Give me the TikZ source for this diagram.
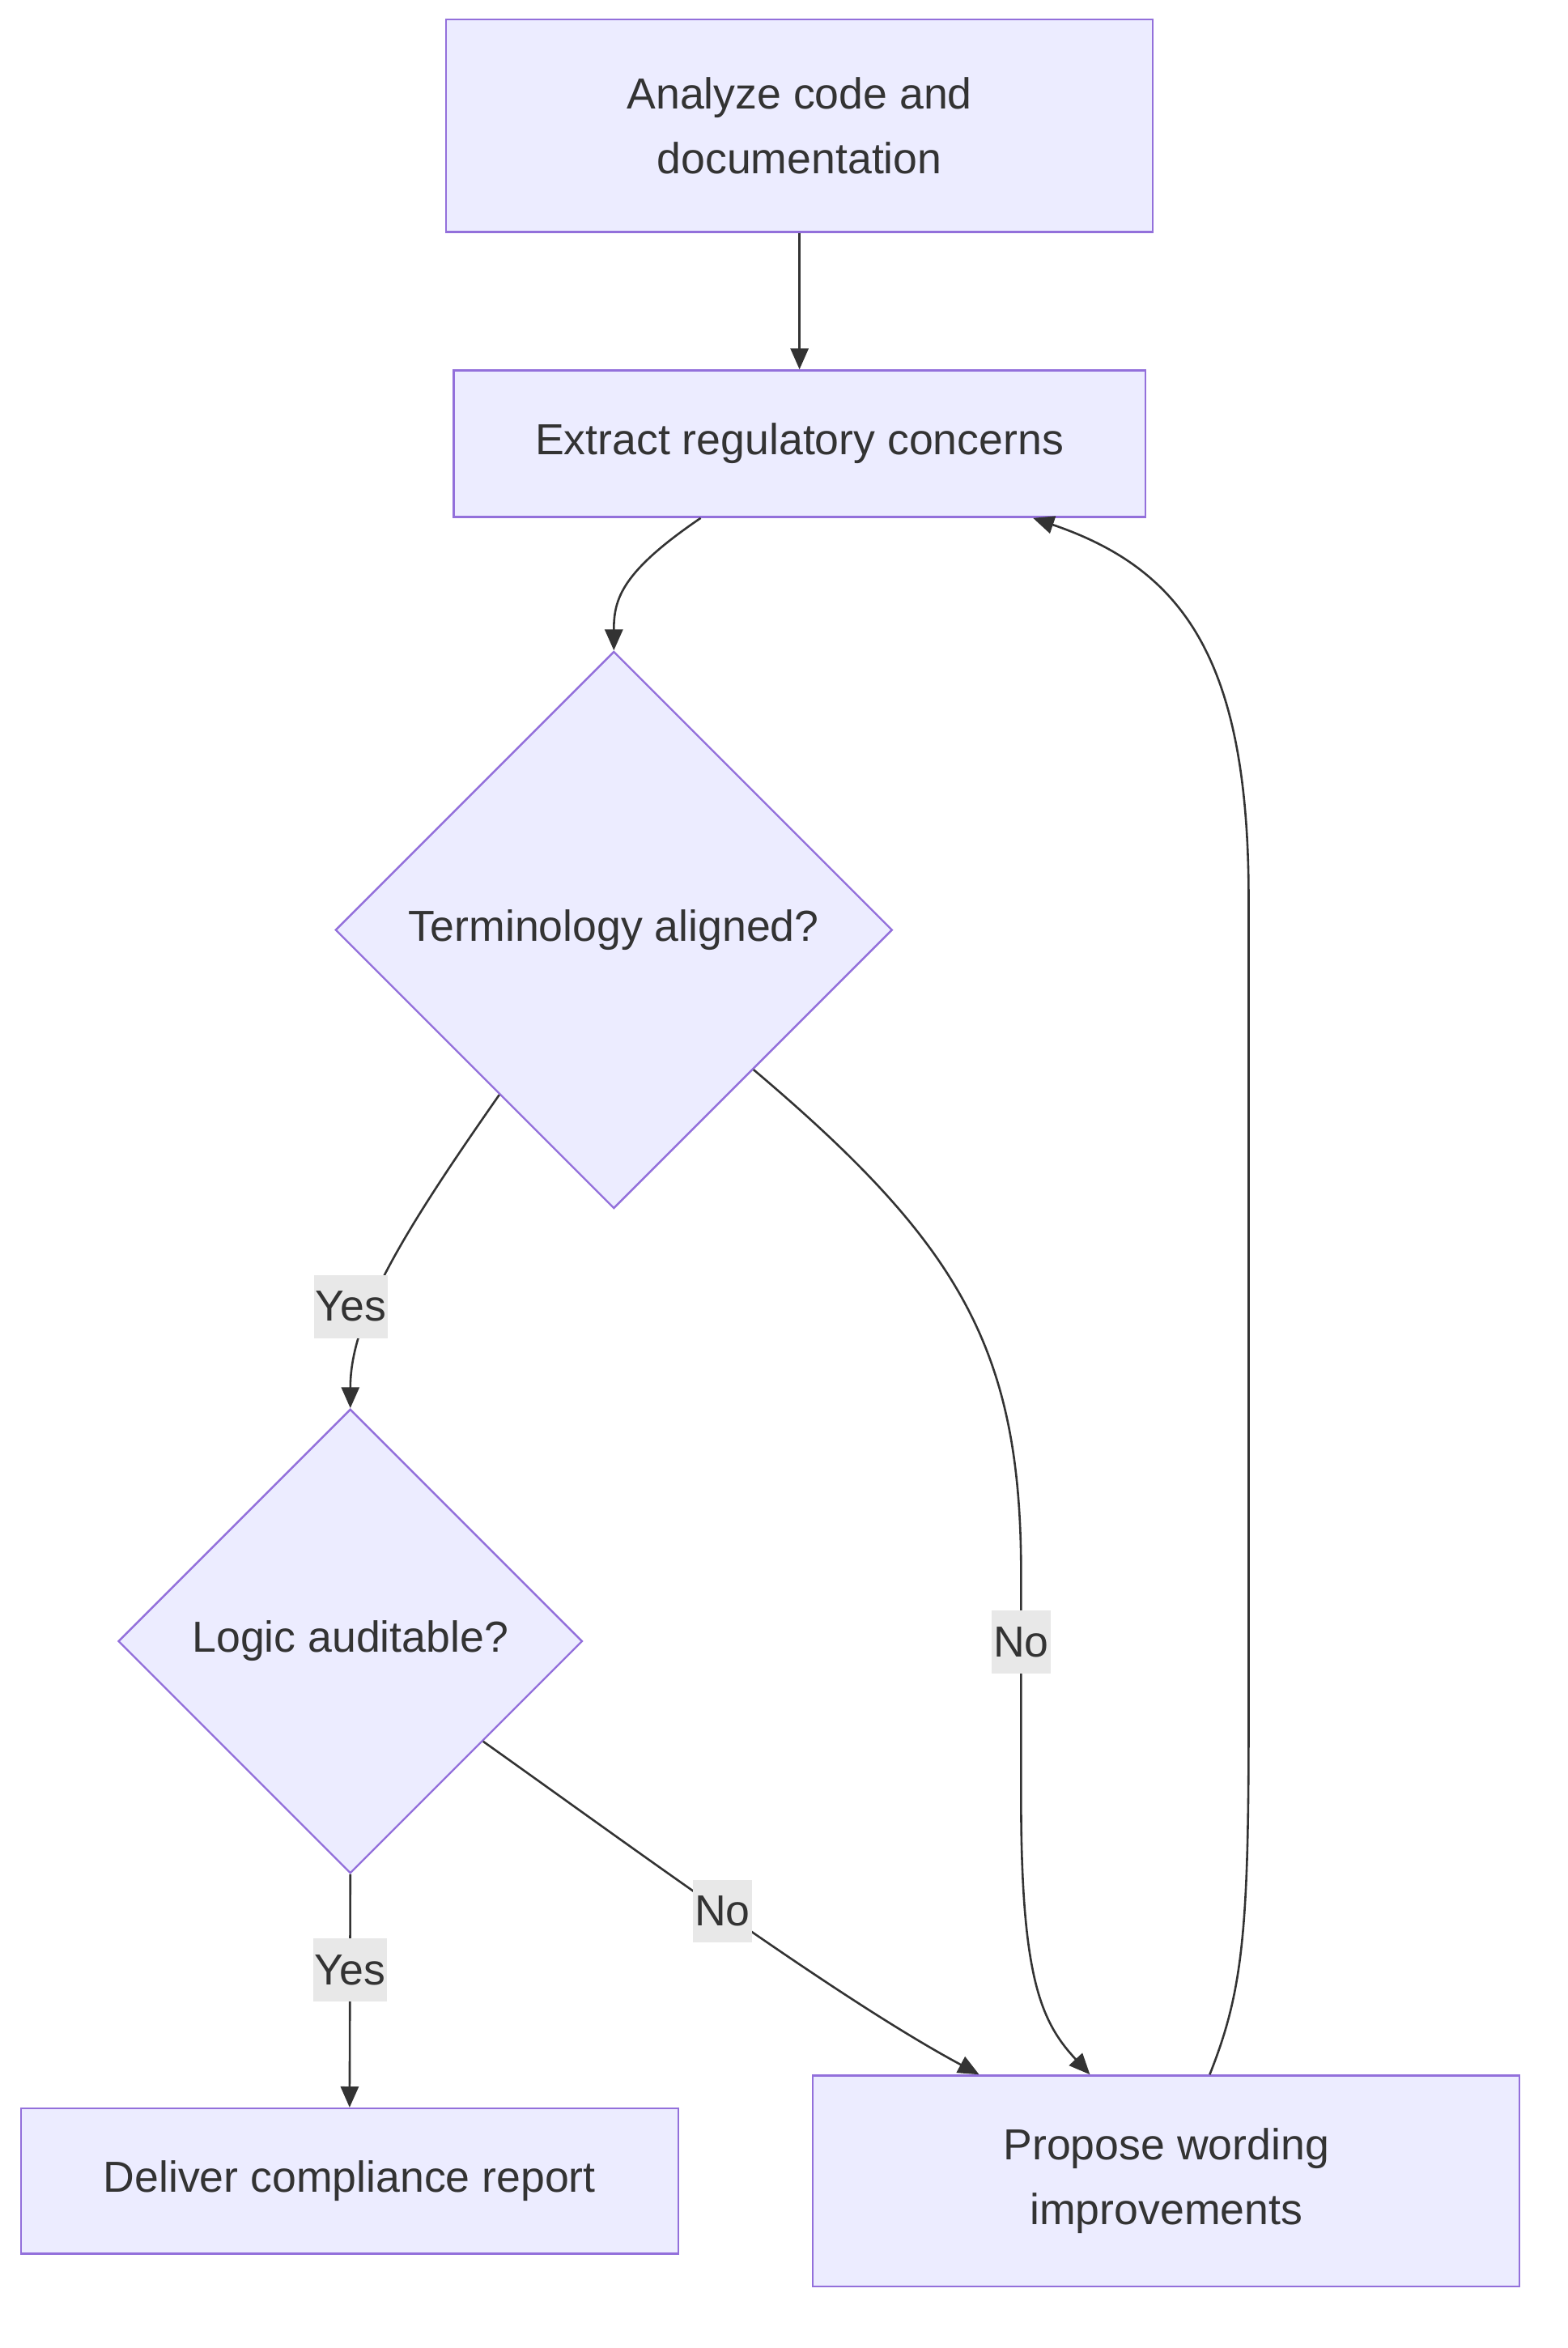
\documentclass[tikz,border=0pt]{standalone}
\usepackage{fontspec}
\setmainfont{Liberation Sans}
\usetikzlibrary{arrows.meta,positioning,shapes.geometric,calc}
\definecolor{nodefill}{HTML}{ECECFF}
\definecolor{nodeline}{HTML}{9370DB}
\definecolor{ink}{HTML}{333333}
\definecolor{labelbg}{HTML}{E8E8E8}

\begin{document}
\begin{tikzpicture}[x=1pt, y=-1pt, font=\fontsize{29}{43}\selectfont, text=ink,
	box/.style={draw=nodeline, fill=nodefill, line width=1.3pt, align=center, inner sep=0pt},
	decision/.style={box, diamond, minimum width=#1, minimum height=#1},
	flow/.style={draw=ink, line width=1.4pt, -{Triangle[length=14pt,width=12pt]}},
	edgelabel/.style={fill=labelbg, inner xsep=1pt, inner ysep=0pt, minimum height=42pt, text=ink}]
	\useasboundingbox (0,0) rectangle (1047,1568);

	\node[box, minimum width=472pt, minimum height=142pt] (analyze) at (534,84)
	{Analyze code and\\documentation};
	\node[box, minimum width=462pt, minimum height=98pt, below=91pt of analyze] (extract)
	{Extract regulatory concerns};
	\node[decision=372pt] (terms) at (410,621) {Terminology aligned?};
	\node[decision=310pt] (logic) at (234,1096) {Logic auditable?};
	\node[box, minimum width=439pt, minimum height=97pt] (report) at (233.5,1456.5)
	{Deliver compliance report};
	\node[box, minimum width=472pt, minimum height=141pt] (propose) at (779,1456.5)
	{Propose wording\\improvements};

	\draw[flow] (analyze) -- (extract);
	\draw[flow] ([xshift=-66pt]extract.south) .. controls (415,382) and (410,400) .. (terms.north);
	% yes / no out of the first check
	\draw[flow] ($(terms.west)!0.59!(terms.south)$) .. controls (270,822) and (234,880) ..
	node[edgelabel, pos=0.63, xshift=-14pt] {Yes} (logic.north);
	\draw[flow] (terms.south east) .. controls (640,830) and (682,900) .. (682,1050)
	-- node[edgelabel, pos=0.31] {No} (682,1200)
	.. controls (682,1320) and (695,1350) .. ([xshift=-51pt]propose.north);
	% yes / no out of the second check
	\draw[flow] (logic.south) -- node[edgelabel, pos=0.41] {Yes} (report.north);
	\draw[flow] ($(logic.east)!0.43!(logic.south)$) .. controls (420,1232) and (560,1335) ..
	node[edgelabel, pos=0.48] {No} ([xshift=-125pt]propose.north);
	% loop back
	\draw[flow] ([xshift=29pt]propose.north) .. controls (830,1330) and (834,1290) .. (834,1150)
	-- (834,600) .. controls (834,440) and (790,380) .. ([xshift=156pt]extract.south);
\end{tikzpicture}
\end{document}
